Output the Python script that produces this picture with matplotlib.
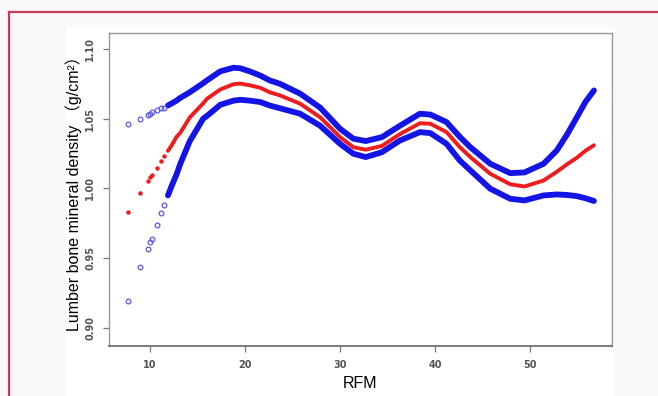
import matplotlib
matplotlib.use('Agg')
import matplotlib.pyplot as plt
from matplotlib.patches import Rectangle
from matplotlib.lines import Line2D

# ── data ──────────────────────────────────────────────────────────────
# sparse low-RFM points, drawn as individual markers
sparse_rfm   = [7.65, 8.98, 9.76, 10.0, 10.2, 10.7, 11.2, 11.5]
sparse_upper = [1.0459, 1.050, 1.0524, 1.0536, 1.055, 1.056, 1.0574, 1.058]
sparse_fit   = [0.983, 0.997, 1.005, 1.008, 1.010, 1.015, 1.020, 1.023]
sparse_lower = [0.919, 0.9435, 0.9565, 0.9615, 0.964, 0.9737, 0.9826, 0.9878]

# dense part of the curves
rfm = [11.9, 12.3, 12.8, 13.2, 14.2, 15.6, 16.0, 17.4, 18.8, 19.5, 20.5,
       21.6, 22.6, 23.7, 25.8, 27.9, 30.0, 31.4, 32.7, 34.4, 36.3, 38.4,
       39.5, 41.2, 42.6, 43.7, 45.8, 47.9, 49.4, 51.4, 52.8, 53.9, 54.9,
       55.8, 56.7]
upper = [1.0595, 1.061, 1.063, 1.065, 1.069, 1.0755, 1.0775, 1.084, 1.0866,
         1.0862, 1.084, 1.081, 1.0775, 1.075, 1.068, 1.058, 1.0428, 1.0357,
         1.034, 1.0368, 1.045, 1.0536, 1.053, 1.0476, 1.037, 1.0296, 1.0177,
         1.011, 1.0115, 1.0177, 1.0273, 1.039, 1.051, 1.062, 1.0703]
fit = [1.027, 1.031, 1.037, 1.040, 1.051, 1.061, 1.0643, 1.071, 1.0748,
       1.0752, 1.074, 1.0722, 1.069, 1.0667, 1.0608, 1.0511, 1.0368, 1.0296,
       1.0278, 1.0305, 1.039, 1.0468, 1.0464, 1.0404, 1.0296, 1.0225, 1.0105,
       1.003, 1.0014, 1.0057, 1.012, 1.0175, 1.022, 1.027, 1.031]
lower = [0.995, 1.002, 1.010, 1.0177, 1.034, 1.050, 1.052, 1.060, 1.063,
         1.0636, 1.063, 1.062, 1.0595, 1.0575, 1.0536, 1.045, 1.032, 1.0249,
         1.0225, 1.026, 1.0344, 1.0404, 1.0397, 1.032, 1.020, 1.013, 0.9998,
         0.9926, 0.9914, 0.995, 0.9957, 0.9953, 0.9945, 0.993, 0.991]

x_ticks = [10, 20, 30, 40, 50]
y_ticks = [0.90, 0.95, 1.00, 1.05, 1.10]

BLUE  = '#1414e6'
LBLUE = '#5a5ae0'
RED   = '#ee1c1c'
FRAME = '#c43c5c'
BG    = '#faf8f8'
TICK  = '#555555'

W, H = 658, 396
fig = plt.figure(figsize=(W / 100, H / 100), dpi=100, facecolor=BG)

# white panel and crimson frame lines
fig.add_artist(Rectangle((66 / W, 0), (614 - 66) / W, 1 - 27 / H,
                         transform=fig.transFigure, facecolor='white',
                         edgecolor='none', zorder=0))
fig.add_artist(Line2D([9 / W, 1], [1 - 12 / H, 1 - 12 / H],
                      transform=fig.transFigure, color=FRAME, lw=1.6))
fig.add_artist(Line2D([9 / W, 9 / W], [0, 1 - 12 / H],
                      transform=fig.transFigure, color=FRAME, lw=1.6))

ax = fig.add_axes([109 / W, 1 - 346 / H, (612 - 109) / W, (346 - 33) / H])
ax.set_facecolor('white')

# dense curves
ax.plot(rfm, upper, color=BLUE, lw=4.2, solid_capstyle='round')
ax.plot(rfm, lower, color=BLUE, lw=4.2, solid_capstyle='round')
ax.plot(rfm, fit, color=RED, lw=2.8, solid_capstyle='round')

# sparse points at low RFM
ax.plot(sparse_rfm, sparse_upper, 'o', ms=3.4, mfc='none', mec=LBLUE, mew=0.9)
ax.plot(sparse_rfm, sparse_lower, 'o', ms=3.4, mfc='none', mec=LBLUE, mew=0.9)
ax.plot(sparse_rfm, sparse_fit, 'o', ms=2.2, color=RED, mec=RED)

ax.set_xlim(5.7, 58.6)
ax.set_ylim(0.887, 1.1115)
ax.set_xticks(x_ticks)
ax.set_xticklabels([str(t) for t in x_ticks], fontsize=7, fontweight='bold',
                   color=TICK)
ax.set_yticks(y_ticks)
ax.set_yticklabels([f'{t:.2f}' for t in y_ticks], fontsize=7,
                   fontweight='bold', color=TICK, rotation=90, va='center')
ax.tick_params(direction='out', length=4, width=0.9, color='#777777', pad=6)

for side in ['top', 'right', 'left']:
    ax.spines[side].set_color('#999999')
    ax.spines[side].set_linewidth(1.0)
ax.spines['bottom'].set_color('#666666')
ax.spines['bottom'].set_linewidth(1.2)

ax.set_xlabel('RFM', fontsize=11.5, family=['Liberation Sans', 'DejaVu Sans'],
              labelpad=4.5)
ax.set_ylabel('Lumber bone mineral density \uff08g/cm\u00b2\uff09', fontsize=11.5,
              family=['Liberation Sans', 'Noto Sans CJK SC'], labelpad=2)

fig.savefig('out.png', dpi=100, facecolor=BG)
